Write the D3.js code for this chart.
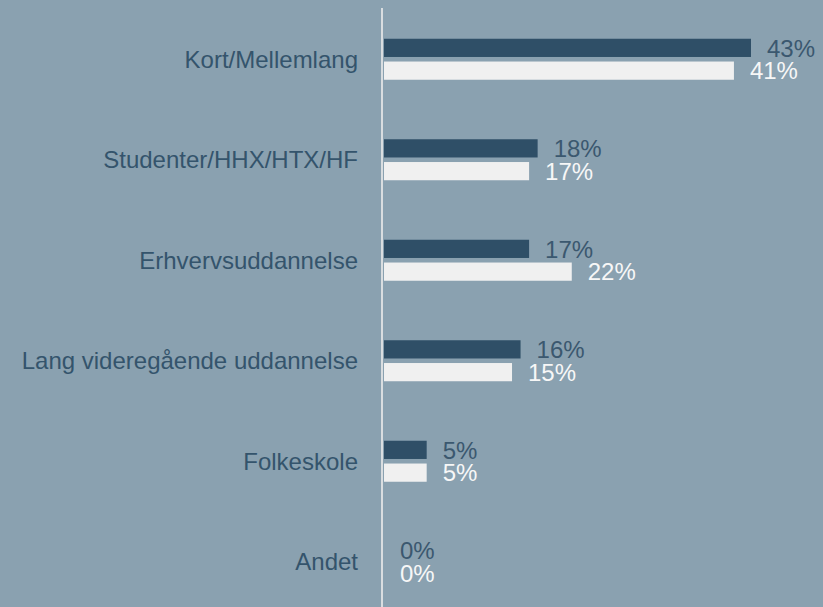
<!DOCTYPE html>
<html>
<head>
<meta charset="utf-8">
<script src="https://cdn.jsdelivr.net/npm/d3@7"></script>
<style>
  html, body { margin: 0; padding: 0; background: #8aa1b0; }
  svg { display: block; }
</style>
</head>
<body>
<script>
const svgWidth = 823;
const svgHeight = 607;

// data
const categories = ["Kort/Mellemlang", "Studenter/HHX/HTX/HF", "Erhvervsuddannelse",
  "Lang videregående uddannelse", "Folkeskole", "Andet"];
const seriesA = [43, 18, 17, 16, 5, 0];   // dark bars
const seriesB = [41, 17, 22, 15, 5, 0];   // light bars
const seriesKeys = ["a", "b"];

const colors = { a: "#2f4f67", b: "#f0f0f0" };
const labelColors = { a: "#3b586f", b: "#f7f7f7" };

const svg = d3.select("body").append("svg")
  .attr("width", svgWidth)
  .attr("height", svgHeight);

svg.append("rect")
  .attr("width", svgWidth)
  .attr("height", svgHeight)
  .attr("fill", "#8aa1b0");

const axisX = 382;

const xScale = d3.scaleLinear()
  .domain([0, 43])
  .range([axisX + 2, 751]);

const yScale = d3.scaleBand()
  .domain(categories)
  .range([9, 612])
  .padding(0);

const ySub = d3.scaleBand()
  .domain(seriesKeys)
  .range([-20.5, 20.5])
  .paddingInner(0.2);

const rows = categories.map((c, i) => ({ cat: c, a: seriesA[i], b: seriesB[i] }));

// category labels
svg.append("g")
  .selectAll("text")
  .data(categories)
  .enter()
  .append("text")
  .attr("x", 358)
  .attr("y", d => yScale(d) + yScale.bandwidth() / 2)
  .attr("dy", "0.36em")
  .attr("text-anchor", "end")
  .attr("font-family", "'Liberation Sans', Arial, sans-serif")
  .attr("font-size", "24px")
  .attr("fill", "#34546c")
  .text(d => d);

const groups = svg.append("g")
  .selectAll("g")
  .data(rows)
  .enter()
  .append("g")
  .attr("transform", d => `translate(0, ${yScale(d.cat) + yScale.bandwidth() / 2})`);

groups.selectAll("rect")
  .data(d => seriesKeys.map(k => ({ key: k, value: d[k] })))
  .enter()
  .append("rect")
  .attr("x", xScale(0))
  .attr("y", d => ySub(d.key))
  .attr("width", d => xScale(d.value) - xScale(0))
  .attr("height", ySub.bandwidth())
  .attr("fill", d => colors[d.key]);

groups.selectAll("text")
  .data(d => seriesKeys.map(k => ({ key: k, value: d[k] })))
  .enter()
  .append("text")
  .attr("x", d => xScale(d.value) + 16)
  .attr("y", d => ySub(d.key) + ySub.bandwidth() / 2)
  .attr("dy", "0.36em")
  .attr("font-family", "'Liberation Sans', Arial, sans-serif")
  .attr("font-size", "24px")
  .attr("fill", d => labelColors[d.key])
  .text(d => d.value + "%");

// vertical axis line
svg.append("line")
  .attr("x1", axisX)
  .attr("x2", axisX)
  .attr("y1", 8)
  .attr("y2", svgHeight)
  .attr("stroke", "#d9dde0")
  .attr("stroke-width", 2);
</script>
</body>
</html>
